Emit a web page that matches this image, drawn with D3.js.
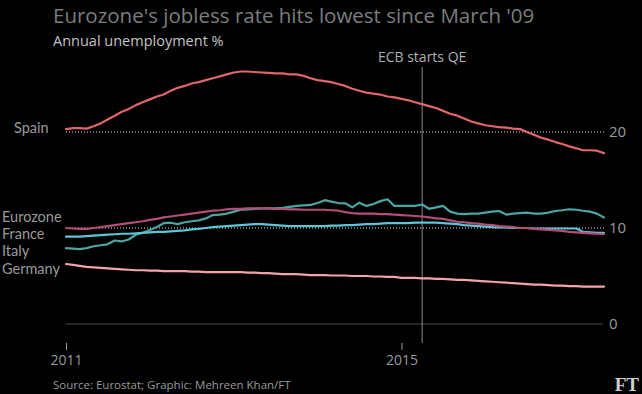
<!DOCTYPE html>
<html><head><meta charset="utf-8">
<script src="https://cdn.jsdelivr.net/npm/d3@7"></script>
<style>html,body{margin:0;padding:0;background:#000;}svg{display:block;}</style>
</head><body>
<script>
const startMonth = "2011-01";
const endMonth = "2017-06";
const spain = [20.3,20.4,20.4,20.35,20.6,20.9,21.3,21.7,22.1,22.4,22.8,23.1,
 23.4,23.7,23.9,24.3,24.6,24.8,25.05,25.2,25.4,25.6,25.8,26.0,
 26.2,26.3,26.3,26.25,26.2,26.15,26.1,26.1,26.0,26.0,25.85,25.6,
 25.4,25.3,25.2,25.0,24.8,24.5,24.3,24.1,24.0,23.9,23.7,23.6,
 23.45,23.3,23.1,22.9,22.7,22.5,22.2,21.9,21.7,21.4,21.1,20.9,
 20.7,20.6,20.5,20.45,20.35,20.3,20.0,19.7,19.4,19.2,18.95,18.75,
 18.5,18.3,18.1,18.1,18.05,17.8];
const eurozone = [10.0,9.95,9.9,9.9,10.0,10.1,10.2,10.3,10.4,10.5,10.6,10.7,
 10.85,10.95,11.1,11.2,11.3,11.4,11.5,11.6,11.7,11.8,11.85,11.95,
 12.0,12.0,12.05,12.05,12.05,12.05,12.0,12.0,11.95,11.95,11.9,11.9,
 11.9,11.9,11.85,11.8,11.65,11.55,11.5,11.5,11.5,11.45,11.45,11.4,
 11.35,11.3,11.25,11.2,11.1,11.0,10.95,10.8,10.65,10.6,10.5,10.45,
 10.35,10.3,10.2,10.15,10.1,10.0,10.0,9.9,9.85,9.8,9.75,9.7,
 9.6,9.55,9.5,9.45,9.4,9.35];
const france = [9.1,9.1,9.1,9.15,9.2,9.25,9.3,9.35,9.4,9.4,9.45,9.5,
 9.55,9.6,9.6,9.65,9.7,9.75,9.85,9.9,10.0,10.1,10.15,10.2,
 10.25,10.3,10.35,10.4,10.4,10.35,10.3,10.25,10.2,10.2,10.2,10.2,
 10.2,10.2,10.25,10.25,10.3,10.3,10.35,10.4,10.4,10.45,10.5,10.5,
 10.5,10.5,10.55,10.55,10.55,10.55,10.5,10.45,10.4,10.3,10.25,10.2,
 10.15,10.1,10.05,10.05,10.0,10.0,10.0,9.95,9.95,9.95,9.95,9.95,
 9.95,9.95,9.6,9.55,9.5,9.5];
const italy = [7.9,7.85,7.8,7.9,8.1,8.2,8.3,8.7,8.6,8.8,9.3,9.5,
 9.8,10.1,10.5,10.55,10.4,10.6,10.7,10.8,11.0,11.35,11.4,11.5,
 11.7,11.9,11.95,12.0,12.05,12.05,12.05,12.1,12.2,12.3,12.35,12.4,
 12.6,12.9,12.75,12.6,12.57,12.15,12.64,12.3,12.5,12.8,13.0,12.3,
 12.3,12.3,12.3,12.45,12.0,12.15,12.3,11.7,11.5,11.45,11.5,11.5,
 11.6,11.7,11.77,11.4,11.5,11.55,11.6,11.5,11.5,11.6,11.77,11.85,
 11.95,11.9,11.8,11.7,11.5,11.1];
const germany = [6.25,6.15,6.05,5.95,5.9,5.85,5.8,5.75,5.7,5.65,5.6,5.6,
 5.55,5.55,5.5,5.5,5.5,5.5,5.45,5.45,5.4,5.4,5.4,5.4,
 5.4,5.4,5.35,5.35,5.3,5.3,5.25,5.2,5.2,5.2,5.15,5.1,
 5.1,5.1,5.05,5.05,5.05,5.0,5.0,5.0,4.95,4.95,4.9,4.9,
 4.8,4.8,4.8,4.75,4.75,4.7,4.7,4.65,4.6,4.6,4.55,4.5,
 4.45,4.4,4.35,4.3,4.25,4.2,4.15,4.1,4.1,4.05,4.0,4.0,
 3.95,3.95,3.9,3.9,3.9,3.9];
const seriesNames = ["Germany","Italy","France","Eurozone","Spain"];
const seriesColors = {Spain:"#e0656c",Eurozone:"#b24e78",France:"#5ec4d8",Italy:"#4da5a2",Germany:"#f3a2a9"};
const yTicks = [0,10,20];
const xTickYears = ["2011","2015"];
const ecbDate = "2015-04-01";
const ecbLabel = "ECB starts QE";
const title = "Eurozone's jobless rate hits lowest since March '09";
const subtitle = "Annual unemployment %";
const source = "Source: Eurostat; Graphic: Mehreen Khan/FT";

const W = 642, H = 394;
const parseM = d3.timeParse("%Y-%m");
const months = d3.timeMonth.range(parseM(startMonth), d3.timeMonth.offset(parseM(endMonth), 1));
const valuesBy = {Spain:spain,Eurozone:eurozone,France:france,Italy:italy,Germany:germany};

const x = d3.scaleTime().domain([parseM(startMonth), parseM(endMonth)]).range([66, 604]);
const y = d3.scaleLinear().domain([0, 20]).range([324, 132]);

const svg = d3.select("body").append("svg").attr("width", W).attr("height", H)
  .style("background", "#000");
const font = "'Open Sans', sans-serif";
const labelFont = "Lato, sans-serif";

svg.append("text").attr("x", 53).attr("y", 23).text(title)
  .attr("font-family", font).attr("font-size", 20.5).attr("fill", "#7d7d7d");
svg.append("text").attr("x", 53).attr("y", 46).text(subtitle)
  .attr("font-family", font).attr("font-size", 14.5).attr("fill", "#c4c4c4");

// grid lines
yTicks.forEach(t => {
  svg.append("line").attr("x1", 66).attr("x2", t === 0 ? 603 : 606)
    .attr("y1", y(t)).attr("y2", y(t))
    .attr("stroke", t === 0 ? "#4a4a4a" : "#e8e8e8")
    .attr("stroke-width", 1)
    .attr("stroke-dasharray", t === 0 ? null : "1,2");
});
// right axis
const yAxis = d3.axisRight(y).tickValues(yTicks).tickSize(0).tickPadding(0);
const ga = svg.append("g").attr("transform", "translate(609,0)").call(yAxis);
ga.select(".domain").remove();
ga.selectAll("text").attr("font-family", font).attr("font-size", 15).attr("fill", "#9a9a9a");

// x axis
const xAxis = d3.axisBottom(x).tickValues(xTickYears.map(s => d3.timeParse("%Y")(s)))
  .tickFormat(d3.timeFormat("%Y")).tickSize(7).tickPadding(5);
const gx = svg.append("g").attr("transform", "translate(0,343)").call(xAxis);
gx.select(".domain").remove();
gx.selectAll("line").attr("stroke", "#9a9a9a");
gx.selectAll("text").attr("font-family", font).attr("font-size", 14).attr("fill", "#9a9a9a");

// ECB line
const ex = x(d3.timeParse("%Y-%m-%d")(ecbDate));
svg.append("line").attr("x1", ex).attr("x2", ex).attr("y1", 67).attr("y2", 343)
  .attr("stroke", "#8a8a8a").attr("stroke-width", 1);
svg.append("text").attr("x", ex).attr("y", 62).attr("text-anchor", "middle").text(ecbLabel)
  .attr("font-family", font).attr("font-size", 14).attr("fill", "#b0b0b0");

// lines
const line = d3.line().x((d, i) => x(months[i])).y(d => y(d)).curve(d3.curveLinear);
seriesNames.forEach(n => {
  svg.append("path").datum(valuesBy[n]).attr("d", line)
    .attr("fill", "none").attr("stroke", seriesColors[n]).attr("stroke-width", 2.2)
    .attr("stroke-linejoin", "round").attr("stroke-linecap", "round");
});

// left labels
const labels = [["Spain",14,133],["Eurozone",2,222],["France",2,239],["Italy",2,256],["Germany",2,274]];
labels.forEach(([t, lx, ly]) => {
  svg.append("text").attr("x", lx).attr("y", ly).text(t)
    .attr("font-family", labelFont).attr("font-size", 14.5).attr("fill", "#9a9a9a");
});

svg.append("text").attr("x", 53).attr("y", 389).text(source)
  .attr("font-family", font).attr("font-size", 11.5).attr("fill", "#9a9a9a");
svg.append("text").attr("x", 639).attr("y", 391).attr("text-anchor", "end").text("FT")
  .attr("font-family", "'Liberation Serif', serif").attr("font-weight", "bold")
  .attr("font-size", 19).attr("fill", "#d0d0d0");
</script>
</body></html>
